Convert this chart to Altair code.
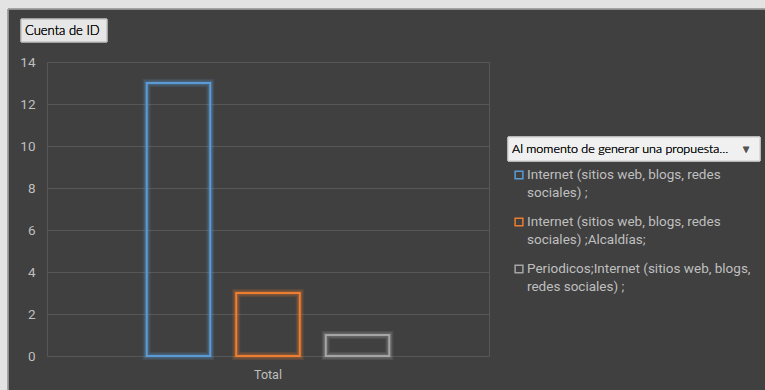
import altair as alt
import pandas as pd

# ---- data ----
categories = ["Total", "Total", "Total"]
series = [
    "Internet (sitios web, blogs, redes sociales) ;",
    "Internet (sitios web, blogs, redes sociales) ;Alcaldías;",
    "Periodicos;Internet (sitios web, blogs, redes sociales) ;",
]
legend_lines = [
    ["Internet (sitios web, blogs, redes", "sociales) ;"],
    ["Internet (sitios web, blogs, redes", "sociales) ;Alcaldías;"],
    ["Periodicos;Internet (sitios web, blogs,", "redes sociales) ;"],
]
values = [13, 3, 1]
colors = ["#5B9BD5", "#ED7D31", "#A5A5A5"]
y_ticks = [0, 2, 4, 6, 8, 10, 12, 14]
field_button = "Cuenta de ID"
legend_title = "Al momento de generar una propuesta..."

FONT = "Roboto"
BOXFONT = "Lato"
BG = "#404040"
GRID = "#575757"
LABEL = "#BFBFBF"

df = pd.DataFrame({
    "cat": categories,
    "serie": series,
    "valor": values,
    "idx": list(range(len(series))),
    "lines": legend_lines,
})

color_scale = alt.Scale(domain=series, range=colors)

x_enc = alt.X("cat:N", title=None,
              scale=alt.Scale(paddingInner=0, paddingOuter=0.411),
              axis=alt.Axis(labelAngle=0, labelColor=LABEL, labelFont=FONT, labelFontSize=12.5,
                            domain=False, ticks=False, labelPadding=12, grid=False))
xoff_enc = alt.XOffset("serie:N", sort=series, scale=alt.Scale(paddingInner=0.29, paddingOuter=0))
y_enc = alt.Y("valor:Q", title=None,
              scale=alt.Scale(domain=[0, 14], nice=False),
              axis=alt.Axis(values=y_ticks, labelColor=LABEL, labelFont=FONT, labelFontSize=13.5,
                            domain=False, ticks=False, labelPadding=12,
                            grid=True, gridColor=GRID, gridWidth=1))

base = alt.Chart(df)

glow_outer = base.mark_bar(filled=False, strokeWidth=8, strokeOpacity=0.15).encode(
    x=x_enc, xOffset=xoff_enc, y=y_enc,
    color=alt.Color("serie:N", scale=color_scale, legend=None),
)
glow = base.mark_bar(filled=False, strokeWidth=5, strokeOpacity=0.25).encode(
    x=x_enc, xOffset=xoff_enc, y=y_enc,
    color=alt.Color("serie:N", scale=color_scale, legend=None),
)
bars = base.mark_bar(filled=False, strokeWidth=2).encode(
    x=x_enc, xOffset=xoff_enc, y=y_enc,
    color=alt.Color("serie:N", scale=color_scale, legend=None),
)
plot = alt.layer(glow_outer, glow, bars)

# outer light strips (window frame)
frame_left = base.mark_rect(color="#E3E3E3").encode(
    x=alt.value(-47), x2=alt.value(-39), y=alt.value(-62), y2=alt.value(328))
frame_top = base.mark_rect(color="#E3E3E3").encode(
    x=alt.value(-47), x2=alt.value(718), y=alt.value(-62), y2=alt.value(-53))
frame_line = base.mark_rule(color="#9A9A9A").encode(
    x=alt.value(-39), y=alt.value(-53), y2=alt.value(328))
frame_line2 = base.mark_rule(color="#9A9A9A").encode(
    x=alt.value(-39), x2=alt.value(718), y=alt.value(-53))

# field button
btn = base.mark_rect(color="#E6E6E6", stroke="#B0B0B0", strokeWidth=1).encode(
    x=alt.value(-26), x2=alt.value(60), y=alt.value(-43), y2=alt.value(-20))
btn_text = base.mark_text(align="left", baseline="middle", font=BOXFONT, fontSize=13,
                          fontWeight=300, color="#111111").encode(
    x=alt.value(-22), y=alt.value(-31), text=alt.value(field_button))

# legend header
lg_box = base.mark_rect(color="#F0F0F0", stroke="#C8C8C8", strokeWidth=1).encode(
    x=alt.value(461), x2=alt.value(713), y=alt.value(75), y2=alt.value(99))
lg_text = base.mark_text(align="left", baseline="middle", font=BOXFONT, fontSize=12.5,
                         fontWeight=300, color="#111111").encode(
    x=alt.value(465), y=alt.value(87), text=alt.value(legend_title))
lg_arrow = base.mark_text(align="center", baseline="middle", font="DejaVu Sans", fontSize=8,
                          color="#555555").encode(
    x=alt.value(699), y=alt.value(88), text=alt.value("▼"))

# manual legend entries
leg_sym = base.mark_point(shape="square", filled=False, size=60, strokeWidth=1.5, opacity=1).transform_calculate(
    ly="113 + datum.idx * 47"
).encode(
    x=alt.value(472),
    y=alt.Y("ly:Q", scale=None, axis=None),
    color=alt.Color("serie:N", scale=color_scale, legend=None),
)
leg_txt = base.mark_text(align="left", baseline="middle", font=FONT, fontSize=13.5,
                         lineHeight=18, color=LABEL).transform_calculate(
    ly="113 + datum.idx * 47"
).encode(
    x=alt.value(480),
    y=alt.Y("ly:Q", scale=None, axis=None),
    text=alt.Text("lines"),
)

chart = alt.layer(
    frame_left, frame_top, frame_line, frame_line2,
    plot,
    btn, btn_text, lg_box, lg_text, lg_arrow,
    leg_sym, leg_txt,
).resolve_scale(y="independent").properties(
    width=442, height=294,
    background=BG,
    autosize=alt.AutoSizeParams(type="none"),
    padding={"left": 47, "top": 62, "right": 276, "bottom": 34},
).configure_view(stroke=GRID, strokeWidth=1)

chart.save("out.html", embed_options={"renderer": "svg", "actions": False})
